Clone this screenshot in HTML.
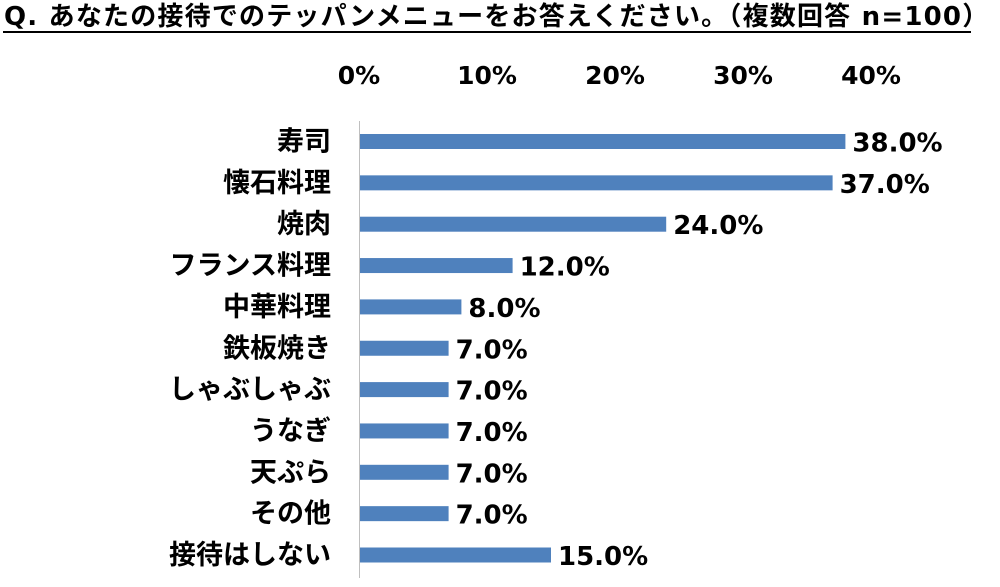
<!DOCTYPE html>
<html><head><meta charset="utf-8">
<style>
html,body{margin:0;padding:0;background:#fff;}
body{width:1000px;height:587px;position:relative;overflow:hidden;font-family:"DejaVu Sans","Noto Sans CJK JP",sans-serif;}
#title{position:absolute;left:4px;top:-4px;font-size:26px;font-weight:bold;color:#000;white-space:nowrap;letter-spacing:1.2px;}
#title-rule{position:absolute;left:3px;top:31px;width:968px;height:2px;background:#000;}
svg{position:absolute;left:0;top:0;}
svg text{font-family:"DejaVu Sans","Noto Sans CJK JP",sans-serif;font-weight:bold;fill:#000;}
</style></head>
<body>
<div id="title">Q. あなたの接待でのテッパンメニューをお答えください。（複数回答 n=100）</div>
<div id="title-rule"></div>
<svg id="chart" width="1000" height="587"></svg>
<script>
const categories=["寿司","懐石料理","焼肉","フランス料理","中華料理","鉄板焼き","しゃぶしゃぶ","うなぎ","天ぷら","その他","接待はしない"];
const values=[38,37,24,12,8,7,7,7,7,7,15];
const tickValues=[0,10,20,30,40];
const tickLabels=["0%","10%","20%","30%","40%"];
const NS="http://www.w3.org/2000/svg";
const svg=document.getElementById('chart');
const x0=359,pxPer=12.8,y0=141.5,step=41.35,bh=15;
const xs=v=>x0+v*pxPer;
const ys=i=>y0+i*step;
function mk(t,a){const e=document.createElementNS(NS,t);for(const k in a)e.setAttribute(k,a[k]);svg.appendChild(e);return e;}
tickValues.forEach((v,i)=>{
  const t=mk('text',{x:xs(v),y:84,'text-anchor':'middle','font-size':25});
  t.textContent=tickLabels[i];
  
  
});
const ax=mk('line',{x1:x0+0.5,x2:x0+0.5,y1:121,y2:578,stroke:'#bfbfbf','stroke-width':1});


categories.forEach((c,i)=>{
  const y=ys(i);
  const r=mk('rect',{x:x0+1,y:y-bh/2,width:xs(values[i])-x0-1,height:bh,fill:'#4f81bd'});
  
  
  const l=mk('text',{x:331,y:y+9,'text-anchor':'end','font-size':27});
  l.textContent=c;
  
  
  const v=mk('text',{x:xs(values[i])+7,y:y+10,'font-size':26});
  v.textContent=values[i].toFixed(1)+'%';
  
  
});
</script>
</body></html>
